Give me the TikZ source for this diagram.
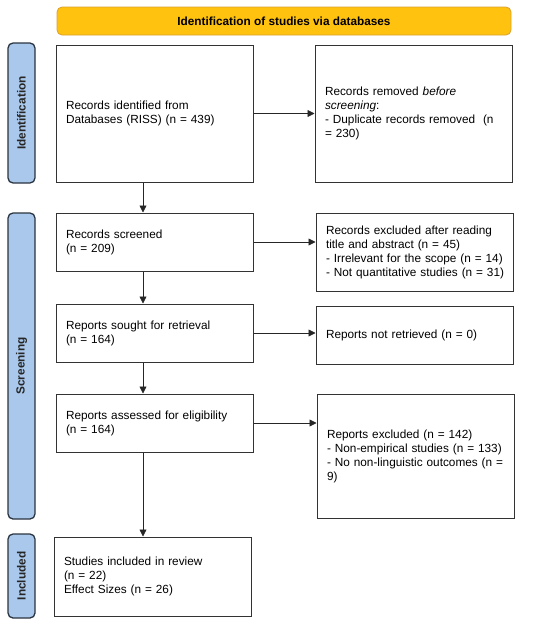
\documentclass[tikz,border=0pt]{standalone}
\usepackage{fontspec}
\setmainfont{Liberation Sans}
\usetikzlibrary{arrows.meta}
\definecolor{bannerfill}{HTML}{FFC20E}
\definecolor{bannerdraw}{HTML}{D9A030}
\definecolor{barfill}{HTML}{A9C8EC}
\definecolor{bardraw}{HTML}{2B3440}
\definecolor{boxdraw}{HTML}{333333}
\begin{document}
\begin{tikzpicture}[x=1pt,y=-1pt,
  every node/.style={font=\fontsize{11.8}{14}\selectfont},
  banner/.style={draw=bannerdraw,fill=bannerfill,rounded corners=5pt,line width=0.8pt,
    minimum width=454pt,minimum height=28pt,inner sep=0pt,font=\fontsize{11.8}{14}\selectfont\bfseries},
  phasebar/.style={draw=bardraw,fill=barfill,rounded corners=5pt,line width=1.3pt,
    minimum width=27pt,inner sep=0pt},
  phasetext/.style={rotate=90,font=\fontsize{11.8}{14}\selectfont\bfseries,text=black!85},
  stagebox/.style={draw=boxdraw,line width=1pt,minimum width=197pt,text width=177pt,
    inner xsep=10pt,inner ysep=0pt,align=left},
  arr/.style={draw=black!85,line width=0.8pt,-{Triangle[length=7pt,width=7pt]}}
]
\useasboundingbox (0,0) rectangle (550,624);

\node[banner] (ban) at (284,21) {Identification of studies via databases};

\node[phasebar,minimum height=140pt] (idbar) at (21.5,113) {};
\node[phasetext] (idtxt) at (idbar.center) {Identification};
\node[phasebar,minimum height=306pt] (scbar) at (21.5,366) {};
\node[phasetext] (sctxt) at (scbar.center) {Screening};
\node[phasebar,minimum height=84pt] (inbar) at (21.5,576) {};
\node[phasetext] (intxt) at (inbar.center) {Included};

\node[stagebox,minimum height=137pt] (b1) at (154.5,113.5)
  {Records identified from\\Databases (RISS) (n = 439)};
\node[stagebox,minimum height=137pt] (b2) at (413.5,113.5)
  {Records removed \emph{before}\\\emph{screening}:\\\mbox{- Duplicate records removed\ \ (n}\\= 230)};

\node[stagebox,minimum height=58pt] (s1) at (154.5,242)
  {Records screened\\(n = 209)};
\node[stagebox,minimum height=78pt] (e1) at (414.5,252)
  {\mbox{Records excluded after reading}\\\mbox{title and abstract (n = 45)}\\\mbox{- Irrelevant for the scope (n = 14)}\\\mbox{- Not quantitative studies (n = 31)}};

\node[stagebox,minimum height=58pt] (s2) at (154.5,333)
  {Reports sought for retrieval\\(n = 164)};
\node[stagebox,minimum height=58pt] (e2) at (414.5,335)
  {Reports not retrieved (n = 0)};

\node[stagebox,minimum height=58pt] (s3) at (154.5,423)
  {Reports assessed for eligibility\\(n = 164)};
\node[stagebox,minimum height=124pt] (e3) at (415.5,456)
  {Reports excluded (n = 142)\\\mbox{- Non-empirical studies (n = 133)}\\\mbox{- No non-linguistic outcomes (n =}\\9)};

\node[stagebox,minimum height=79pt] (inc) at (152.5,576.5)
  {Studies included in review\\(n = 22)\\Effect Sizes (n = 26)};

\coordinate (col) at (143,0);

\draw[arr] (b1.east) -- (b2.west);
\draw[arr] (s1.east) -- (s1.east -| e1.west);
\draw[arr] (s2.east) -- (s2.east -| e2.west);
\draw[arr] (s3.east) -- (s3.east -| e3.west);

\draw[arr] (b1.south -| col) -- (s1.north -| col);
\draw[arr] (s1.south -| col) -- (s2.north -| col);
\draw[arr] (s2.south -| col) -- (s3.north -| col);
\draw[arr] (s3.south -| col) -- (inc.north -| col);
\end{tikzpicture}
\end{document}
